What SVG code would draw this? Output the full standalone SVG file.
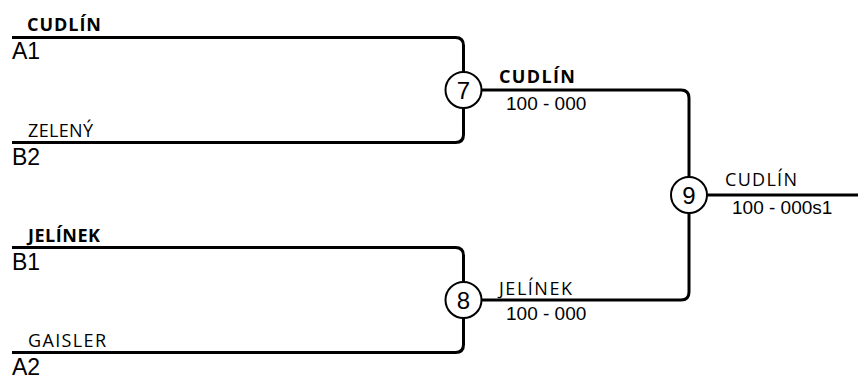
<svg xmlns="http://www.w3.org/2000/svg" width="858" height="379" viewBox="0 0 858 379">
<style>
.ln{fill:none;stroke:#000;stroke-width:3}
.cir{fill:#fff;stroke:#000;stroke-width:2}
.num{font-family:"Liberation Sans",Arial,sans-serif;font-size:24px;text-anchor:middle;fill:#000}
.seed{font-family:"Liberation Sans",Arial,sans-serif;font-size:23px;fill:#000}
.score{font-family:"Liberation Sans",Arial,sans-serif;font-size:19px;fill:#000}
.nm{font-family:"Open Sans","Noto Sans",sans-serif;font-size:18px;fill:#000}
.b{font-weight:bold}
</style>
<rect width="858" height="379" fill="#fff"/>
<g id="connectors">
<path class="ln" d="M12,37.5 H455.5 Q463.5,37.5 463.5,45.5 V72"/>
<path class="ln" d="M12,142.5 H455.5 Q463.5,142.5 463.5,134.5 V108"/>
<path class="ln" d="M12,247.5 H455.5 Q463.5,247.5 463.5,255.5 V282"/>
<path class="ln" d="M12,352.5 H455.5 Q463.5,352.5 463.5,344.5 V318"/>
<path class="ln" d="M481.5,90 H681 Q689,90 689,98 V177"/>
<path class="ln" d="M481.5,300 H681 Q689,300 689,292 V213"/>
<path class="ln" d="M707,195 H858"/>
</g>
<g id="p1">
<text class="nm b" x="27" y="31" textLength="74" lengthAdjust="spacing">CUDLÍN</text>
<text class="seed" x="12" y="59">A1</text>
</g>
<g id="p2">
<text class="nm" x="28" y="137" textLength="65" lengthAdjust="spacing">ZELENÝ</text>
<text class="seed" x="12" y="165">B2</text>
</g>
<g id="p3">
<text class="nm b" x="28" y="242" textLength="72" lengthAdjust="spacing">JELÍNEK</text>
<text class="seed" x="12" y="270">B1</text>
</g>
<g id="p4">
<text class="nm" x="28" y="347" textLength="78" lengthAdjust="spacing">GAISLER</text>
<text class="seed" x="12" y="375">A2</text>
</g>
<g id="m7">
<circle class="cir" cx="463.5" cy="90" r="18"/>
<text class="num" x="463.5" y="98.5">7</text>
<text class="nm b" x="499" y="83" textLength="76" lengthAdjust="spacing">CUDLÍN</text>
<text class="score" x="506" y="110">100 - 000</text>
</g>
<g id="m8">
<circle class="cir" cx="463.5" cy="300" r="18"/>
<text class="num" x="463.5" y="308.5">8</text>
<text class="nm" x="499" y="295" textLength="73" lengthAdjust="spacing">JELÍNEK</text>
<text class="score" x="506" y="320">100 - 000</text>
</g>
<g id="m9">
<circle class="cir" cx="689" cy="195" r="18"/>
<text class="num" x="689" y="203.5">9</text>
<text class="nm" x="725" y="186" textLength="72" lengthAdjust="spacing">CUDLÍN</text>
<text class="score" x="732" y="214">100 - 000s1</text>
</g>
</svg>
